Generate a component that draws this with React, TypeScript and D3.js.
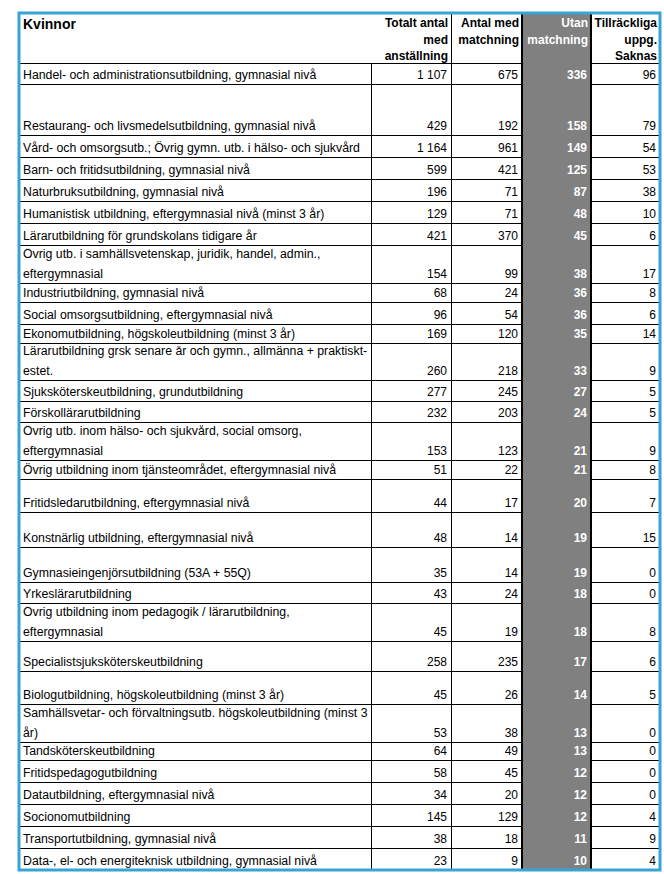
import React from 'react';
import * as d3 from 'd3';

const title = 'Kvinnor';

const columnHeaders = [
  ['Totalt antal', 'med', 'anställning'],
  ['Antal med', 'matchning'],
  ['Utan', 'matchning'],
  ['Tillräckliga', 'uppg.', 'Saknas'],
];

const educations = [
  'Handel- och administrationsutbildning, gymnasial nivå',
  'Restaurang- och livsmedelsutbildning, gymnasial nivå',
  'Vård- och omsorgsutb.; Övrig gymn. utb. i hälso- och sjukvård',
  'Barn- och fritidsutbildning, gymnasial nivå',
  'Naturbruksutbildning, gymnasial nivå',
  'Humanistisk utbildning, eftergymnasial nivå (minst 3 år)',
  'Lärarutbildning för grundskolans tidigare år',
  'Övrig utb. i samhällsvetenskap, juridik, handel, admin.,\neftergymnasial',
  'Industriutbildning, gymnasial nivå',
  'Social omsorgsutbildning, eftergymnasial nivå',
  'Ekonomutbildning, högskoleutbildning (minst 3 år)',
  'Lärarutbildning grsk senare år och gymn., allmänna + praktiskt-\nestet.',
  'Sjuksköterskeutbildning, grundutbildning',
  'Förskollärarutbildning',
  'Övrig utb. inom hälso- och sjukvård, social omsorg,\neftergymnasial',
  'Övrig utbildning inom tjänsteområdet, eftergymnasial nivå',
  'Fritidsledarutbildning, eftergymnasial nivå',
  'Konstnärlig utbildning, eftergymnasial nivå',
  'Gymnasieingenjörsutbildning (53A + 55Q)',
  'Yrkeslärarutbildning',
  'Övrig utbildning inom pedagogik / lärarutbildning,\neftergymnasial',
  'Specialistsjuksköterskeutbildning',
  'Biologutbildning, högskoleutbildning (minst 3 år)',
  'Samhällsvetar- och förvaltningsutb. högskoleutbildning (minst 3\når)',
  'Tandsköterskeutbildning',
  'Fritidspedagogutbildning',
  'Datautbildning, eftergymnasial nivå',
  'Socionomutbildning',
  'Transportutbildning, gymnasial nivå',
  'Data-, el- och energiteknisk utbildning, gymnasial nivå',
];

const totalEmployed = [1107, 429, 1164, 599, 196, 129, 421, 154, 68, 96, 169, 260, 277, 232, 153, 51, 44, 48, 35, 43, 45, 258, 45, 53, 64, 58, 34, 145, 38, 23];
const withMatching = [675, 192, 961, 421, 71, 71, 370, 99, 24, 54, 120, 218, 245, 203, 123, 22, 17, 14, 14, 24, 19, 235, 26, 38, 49, 45, 20, 129, 18, 9];
const withoutMatching = [336, 158, 149, 125, 87, 48, 45, 38, 36, 36, 35, 33, 27, 24, 21, 21, 20, 19, 19, 18, 18, 17, 14, 13, 13, 12, 12, 12, 11, 10];
const missingInfo = [96, 79, 54, 53, 38, 10, 6, 17, 8, 6, 14, 9, 5, 5, 9, 8, 7, 15, 0, 0, 8, 6, 5, 0, 0, 0, 0, 4, 9, 4];

// layout
const width = 664;
const height = 874;
const colEdges = [19, 371, 451, 522, 591, 660];
const tableTop = 13;
const headerBottom = 63;
const rowHeights = [21, 51, 22, 22, 22, 22, 22, 38, 19, 22, 19, 37, 21, 21, 38, 19, 33, 35, 35, 21, 38, 30, 33, 38, 18, 22, 22, 22, 22, 22];
const grayCol = 3; // index into colEdges of the shaded column
const font = '"Liberation Sans", Arial, sans-serif';
const blue = '#38a3d4';
const shade = '#808080';

const se = d3.formatLocale({ decimal: ',', thousands: '\u00a0', grouping: [3], currency: ['', ' kr'] });
const fmt = se.format(',d');

export default function App() {
  const yEdges = [headerBottom, ...Array.from(d3.cumsum(rowHeights), (v) => headerBottom + v)];
  const tableBottom = yEdges[yEdges.length - 1];
  const columns = [totalEmployed, withMatching, withoutMatching, missingInfo];

  return (
    <svg width={width} height={height} style={{ position: 'absolute', left: 0, top: 0 }} fontFamily={font}>
      <rect width={width} height={height} fill="#fff" />
      <defs>
        {educations.map((_, i) => (
          <clipPath key={i} id={`row-clip-${i}`}>
            <rect x={colEdges[0]} y={yEdges[i] + 3} width={colEdges[1] - colEdges[0]} height={yEdges[i + 1] - yEdges[i] - 3} />
          </clipPath>
        ))}
      </defs>

      {/* shaded column */}
      <rect x={colEdges[grayCol]} y={tableTop} width={colEdges[grayCol + 1] - colEdges[grayCol]} height={tableBottom - tableTop} fill={shade} />

      {/* header */}
      <text x={colEdges[0] + 4} y={29} fontSize={14} fontWeight="bold">{title}</text>
      {columnHeaders.map((lines, c) => (
        <text key={c} fontSize={12} fontWeight="bold" textAnchor="end" fill={c + 1 === grayCol ? '#fff' : '#000'}>
          {lines.map((l, k) => (
            <tspan key={k} x={colEdges[c + 2] - 3} y={27 + k * 16.5}>{l}</tspan>
          ))}
        </text>
      ))}

      {/* rows */}
      {educations.map((label, i) => {
        const base = yEdges[i + 1] - 5.5;
        const lines = label.split('\n');
        return (
          <g key={i}>
            <text fontSize={12.3} clipPath={`url(#row-clip-${i})`}>
              {lines.map((l, k) => (
                <tspan key={k} x={colEdges[0] + 4} y={base - (lines.length - 1 - k) * 20}>{l}</tspan>
              ))}
            </text>
            {columns.map((vals, c) => (
              <text key={c} x={colEdges[c + 2] - 4} y={base} fontSize={12} textAnchor="end"
                fontWeight={c + 1 === grayCol ? 'bold' : 'normal'} fill={c + 1 === grayCol ? '#fff' : '#000'}>
                {fmt(vals[i])}
              </text>
            ))}
          </g>
        );
      })}

      {/* horizontal rules (not across the shaded column) */}
      {yEdges.slice(0, -1).map((y, i) => (
        <g key={i} stroke="#000" strokeWidth={1}>
          <line x1={colEdges[0]} x2={colEdges[grayCol]} y1={y + 0.5} y2={y + 0.5} />
          <line x1={colEdges[grayCol + 1]} x2={colEdges[5]} y1={y + 0.5} y2={y + 0.5} />
        </g>
      ))}

      {/* vertical rules */}
      <line x1={colEdges[1] + 0.5} x2={colEdges[1] + 0.5} y1={headerBottom} y2={tableBottom} stroke="#000" />
      <line x1={colEdges[2] + 0.5} x2={colEdges[2] + 0.5} y1={tableTop} y2={tableBottom} stroke="#000" />
      <line x1={colEdges[grayCol]} x2={colEdges[grayCol]} y1={tableTop} y2={tableBottom} stroke="#000" strokeWidth={2} />
      <line x1={colEdges[grayCol + 1]} x2={colEdges[grayCol + 1]} y1={tableTop} y2={tableBottom} stroke="#000" strokeWidth={2} />

      {/* outer border */}
      <rect x={colEdges[0]} y={tableTop} width={colEdges[5] - colEdges[0]} height={tableBottom - tableTop}
        fill="none" stroke={blue} strokeWidth={3} />
    </svg>
  );
}
